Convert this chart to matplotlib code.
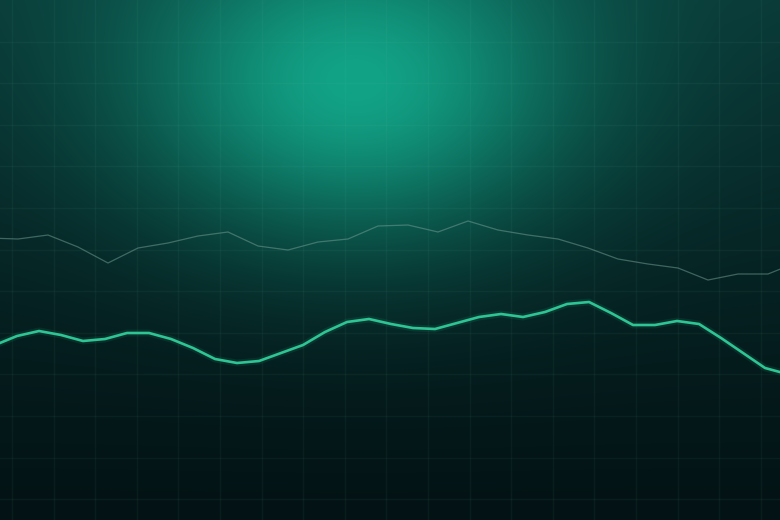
import numpy as np
import matplotlib
matplotlib.use("Agg")
import matplotlib.pyplot as plt
from matplotlib.colors import to_rgb

# Data (higher = up)
bright_values = [175, 184, 189, 185, 179, 181, 187, 187, 181, 172, 161, 157, 159, 167,
                 175, 188, 198, 201, 196, 192, 191, 197, 203, 206, 203, 208, 216, 218,
                 207, 195, 195, 199, 196, 182, 167, 152, 146]
gray_values = [282, 281, 285, 273, 257, 272, 277, 284, 288, 274, 270, 278, 281, 294,
               295, 288, 299, 290, 285, 281, 272, 261, 256, 252, 240, 246, 246, 258]

W, H = 780, 520
fig = plt.figure(figsize=(W / 100, H / 100), dpi=100)

# Background gradient
bg = fig.add_axes([0, 0, 1, 1])
bg.set_axis_off()
yy, xx = np.mgrid[0:H, 0:W]
top = np.array(to_rgb("#0a3a38"))
bot = np.array(to_rgb("#031315"))
v = (yy / H)[..., None]
base = top * (1 - v) ** 1.3 + bot * (1 - (1 - v) ** 1.3)
glow_c = np.array(to_rgb("#12a386"))
cx, cy = 355, 80
g = np.exp(-(((xx - cx) / 300.0) ** 2 + ((yy - cy) / 215.0) ** 2) * 1.9)[..., None]
img = base * (1 - g) + glow_c * g
bg.imshow(img, extent=[0, W, H, 0], aspect="auto", interpolation="bilinear")
bg.set_xlim(0, W)
bg.set_ylim(H, 0)

# Grid
step = 41.6
for k in range(0, 20):
    bg.axvline(12 + step * k, color="#7fd8c0", alpha=0.05, lw=1.0)
for k in range(1, 13):
    bg.axhline(step * k, color="#7fd8c0", alpha=0.05, lw=1.0)

# Lines
ax = fig.add_axes([0, 0, 1, 1])
ax.patch.set_alpha(0)
ax.set_axis_off()
xb = np.arange(len(bright_values))
ax.set_xlim(0.227, 35.68)
ax.set_ylim(0, H)
ax.plot(xb, bright_values, color="#2fc493", lw=5, alpha=0.10, solid_joinstyle="round")
ax.plot(xb, bright_values, color="#2fc493", lw=1.9, solid_joinstyle="round")

ax2 = fig.add_axes([0, 0, 1, 1])
ax2.patch.set_alpha(0)
ax2.set_axis_off()
xg = np.arange(len(gray_values))
ax2.set_xlim(0.4, 26.4)
ax2.set_ylim(0, H)
ax2.plot(xg, gray_values, color="#6f9a90", lw=0.9, alpha=0.55)

fig.savefig("out.png", dpi=100)
